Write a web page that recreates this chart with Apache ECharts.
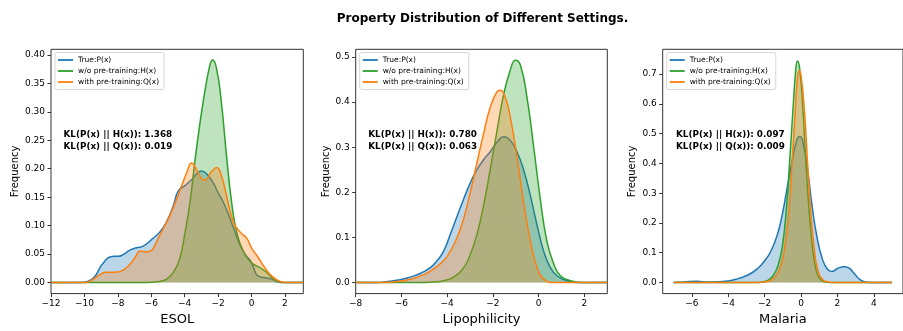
<!DOCTYPE html>
<html>
<head>
<meta charset="utf-8">
<script src="https://cdn.jsdelivr.net/npm/echarts@6/dist/echarts.min.js"></script>
<style>html,body{margin:0;padding:0;background:#fff;}#c{width:903px;height:331px;}</style>
</head>
<body>
<div id="c"></div>
<script>
const titleText = 'Property Distribution of Different Settings.';
const legendNames = ['True:P(x)', 'w/o pre-training:H(x)', 'with pre-training:Q(x)'];
const colors = ['#1f77b4', '#2ca02c', '#ff7f0e'];
const panelNames = ['ESOL', 'Lipophilicity', 'Malaria'];
const klH = [1.368, 0.780, 0.097];
const klQ = [0.019, 0.063, 0.009];

// x ticks / y ticks
const xTicksESOL = [-12, -10, -8, -6, -4, -2, 0, 2];
const xTicksLipo = [-8, -6, -4, -2, 0, 2];
const xTicksMal = [-6, -4, -2, 0, 2, 4];
const yTicksESOL = [0, 0.05, 0.10, 0.15, 0.20, 0.25, 0.30, 0.35, 0.40];
const yTicksLipo = [0, 0.1, 0.2, 0.3, 0.4, 0.5];
const yTicksMal = [0, 0.1, 0.2, 0.3, 0.4, 0.5, 0.6, 0.7];

// ESOL
const esolPX = [-12, -10.2, -9.8, -9.5, -9.27, -9.07, -8.77, -8.47, -8.2, -8.0, -7.68, -7.28, -6.88, -6.48, -6.0, -5.48, -5.08, -4.68, -4.38, -4.0, -3.58, -3.28, -2.99, -2.69, -2.29, -2.0, -1.59, -1.09, -0.69, -0.29, -0.1, 0.1, 0.3, 0.5, 0.9, 1.2, 1.6, 1.9, 3.1];
const esolPY = [0, 0, 0.002, 0.007, 0.015, 0.026, 0.038, 0.045, 0.046, 0.046, 0.049, 0.057, 0.061, 0.064, 0.075, 0.089, 0.107, 0.135, 0.161, 0.170, 0.181, 0.191, 0.196, 0.191, 0.175, 0.158, 0.135, 0.097, 0.066, 0.046, 0.040, 0.028, 0.014, 0.010, 0.008, 0.006, 0.001, 0, 0];
const esolHX = [-12, -6.3, -5.5, -5.08, -4.68, -4.28, -4.0, -3.68, -3.38, -3.08, -2.79, -2.49, -2.33, -2.09, -1.79, -1.49, -1.19, -0.89, -0.49, 0, 0.5, 0.9, 1.3, 1.7, 2.0, 3.1];
const esolHY = [0, 0, 0.002, 0.006, 0.018, 0.044, 0.084, 0.141, 0.215, 0.281, 0.336, 0.382, 0.391, 0.376, 0.313, 0.221, 0.141, 0.089, 0.055, 0.035, 0.026, 0.018, 0.007, 0.001, 0, 0];
const esolQX = [-12, -10.0, -9.47, -9.07, -8.67, -8.17, -7.68, -7.28, -6.97, -6.67, -6.28, -6.0, -5.68, -5.28, -4.88, -4.48, -4.18, -3.88, -3.58, -3.28, -3.0, -2.79, -2.39, -2.09, -1.79, -1.49, -1.09, -0.69, -0.29, 0, 0.4, 0.8, 1.2, 1.7, 2.1, 3.1];
const esolQY = [0, 0, 0.006, 0.014, 0.018, 0.018, 0.022, 0.032, 0.044, 0.055, 0.054, 0.056, 0.072, 0.095, 0.118, 0.147, 0.170, 0.193, 0.210, 0.198, 0.183, 0.180, 0.195, 0.202, 0.187, 0.152, 0.107, 0.089, 0.078, 0.061, 0.044, 0.026, 0.012, 0.002, 0, 0];

// Lipophilicity
const lipoPX = [-8, -7.1, -6.5, -6.06, -5.62, -5.18, -4.74, -4.45, -4.16, -3.87, -3.58, -3.28, -2.99, -2.70, -2.41, -2.12, -1.82, -1.53, -1.24, -0.95, -0.66, -0.36, -0.07, 0.22, 0.51, 0.80, 1.24, 1.68, 3];
const lipoPY = [0, 0, 0.003, 0.006, 0.012, 0.020, 0.033, 0.048, 0.069, 0.106, 0.145, 0.185, 0.221, 0.250, 0.272, 0.290, 0.311, 0.323, 0.315, 0.290, 0.250, 0.192, 0.127, 0.069, 0.033, 0.015, 0.004, 0, 0];
const lipoHX = [-8, -5.0, -4.6, -4.16, -3.72, -3.28, -2.99, -2.70, -2.41, -2.12, -1.82, -1.53, -1.24, -1.02, -0.80, -0.51, -0.22, 0.07, 0.36, 0.66, 0.95, 1.39, 1.82, 3];
const lipoHY = [0, 0, 0.001, 0.004, 0.012, 0.033, 0.062, 0.106, 0.171, 0.250, 0.337, 0.417, 0.471, 0.493, 0.482, 0.410, 0.301, 0.185, 0.091, 0.041, 0.015, 0.004, 0, 0];
const lipoQX = [-8, -6.8, -6.2, -5.62, -5.04, -4.6, -4.16, -3.87, -3.58, -3.28, -2.99, -2.70, -2.41, -2.12, -1.82, -1.68, -1.46, -1.24, -0.95, -0.66, -0.36, -0.07, 0.22, 0.66, 3];
const lipoQY = [0, 0, 0.002, 0.007, 0.017, 0.030, 0.048, 0.069, 0.098, 0.142, 0.200, 0.265, 0.330, 0.388, 0.423, 0.426, 0.410, 0.366, 0.279, 0.178, 0.091, 0.033, 0.008, 0, 0];

// Malaria
const malPX = [-7, -6.4, -5.7, -5.17, -4.47, -4.0, -3.42, -2.89, -2.37, -2.01, -1.66, -1.31, -1.04, -0.78, -0.52, -0.25, -0.08, 0.09, 0.36, 0.63, 0.89, 1.15, 1.42, 1.68, 2.03, 2.38, 2.65, 2.91, 3.26, 3.61, 3.96, 5];
const malPY = [0, 0.002, 0.004, 0.002, 0.003, 0.005, 0.014, 0.026, 0.048, 0.072, 0.105, 0.159, 0.225, 0.312, 0.399, 0.475, 0.490, 0.475, 0.377, 0.246, 0.148, 0.083, 0.047, 0.037, 0.048, 0.053, 0.048, 0.031, 0.009, 0.001, 0, 0];
const malHX = [-7, -2.5, -2.19, -1.83, -1.57, -1.31, -1.04, -0.78, -0.6, -0.43, -0.29, -0.2, -0.08, 0.09, 0.27, 0.45, 0.63, 0.80, 0.98, 1.24, 1.6, 5];
const malHY = [0, 0, 0.001, 0.007, 0.020, 0.050, 0.116, 0.268, 0.432, 0.595, 0.715, 0.744, 0.720, 0.595, 0.400, 0.235, 0.116, 0.050, 0.017, 0.003, 0, 0];
const malQX = [-7, -2.5, -2.19, -1.83, -1.48, -1.22, -0.96, -0.69, -0.52, -0.34, -0.22, -0.11, 0.0, 0.19, 0.36, 0.54, 0.72, 0.89, 1.15, 1.5, 1.9, 5];
const malQY = [0, 0, 0.001, 0.004, 0.015, 0.039, 0.094, 0.225, 0.377, 0.552, 0.672, 0.711, 0.694, 0.574, 0.400, 0.235, 0.116, 0.050, 0.012, 0.002, 0, 0];

const panels = [
  { curves: [[esolPX, esolPY], [esolHX, esolHY], [esolQX, esolQY]], xr: [-12, 3.1], yr: [-0.0195, 0.41], xt: xTicksESOL, yt: yTicksESOL, yd: 2,
    grid: { left: 51, top: 49.3, width: 252.3, height: 250.7 }, yGap: 31, kl: [63.5, 128.5] },
  { curves: [[lipoPX, lipoPY], [lipoHX, lipoHY], [lipoQX, lipoQY]], xr: [-8, 3], yr: [-0.0246, 0.517], xt: xTicksLipo, yt: yTicksLipo, yd: 1,
    grid: { left: 355.7, top: 49.3, width: 251.6, height: 250.7 }, yGap: 24.7, kl: [368.3, 128.5] },
  { curves: [[malPX, malPY], [malHX, malHY], [malQX, malQY]], xr: [-7.6, 5.6], yr: [-0.0372, 0.783], xt: xTicksMal, yt: yTicksMal, yd: 1,
    grid: { left: 662.7, top: 49.3, width: 252, height: 250.7 }, yGap: 25.4, kl: [676, 128.2] }
];

const font = 'DejaVu Sans';
const axisColor = '#333';
const minus = v => String(v).replace('-', '\u2212');

const option = {
  animation: false,
  backgroundColor: '#fff',
  title: { text: titleText, left: 336.7, top: 13, padding: 0,
    textStyle: { fontFamily: font, fontSize: 12, fontWeight: 'bold', color: '#000' } },
  grid: [], xAxis: [], yAxis: [], series: [], legend: [], graphic: []
};

panels.forEach((p, i) => {
  option.grid.push(Object.assign({ show: true, borderColor: axisColor, borderWidth: 1, backgroundColor: 'transparent', containLabel: false }, p.grid));
  option.xAxis.push({
    type: 'value', gridIndex: i, min: p.xr[0], max: p.xr[1], position: 'bottom',
    name: panelNames[i], nameLocation: 'middle', nameGap: 17,
    nameTextStyle: { fontFamily: font, fontSize: 13, color: '#000' },
    axisLine: { show: false, onZero: false }, splitLine: { show: false },
    axisTick: { show: true, inside: false, length: 3.5, customValues: p.xt, lineStyle: { color: axisColor, width: 1 } },
    axisLabel: { customValues: p.xt, margin: 5.5, fontFamily: font, fontSize: 9, color: '#000', formatter: v => minus(v) }
  });
  option.yAxis.push({
    type: 'value', gridIndex: i, min: p.yr[0], max: p.yr[1], position: 'left',
    name: 'Frequency', nameLocation: 'middle', nameGap: p.yGap,
    nameTextStyle: { fontFamily: font, fontSize: 10, color: '#000' },
    axisLine: { show: false, onZero: false }, splitLine: { show: false },
    axisTick: { show: true, inside: false, length: 3.5, customValues: p.yt, lineStyle: { color: axisColor, width: 1 } },
    axisLabel: { customValues: p.yt, margin: 6, fontFamily: font, fontSize: 9, color: '#000', formatter: v => v.toFixed(p.yd) }
  });
  p.curves.forEach((c, j) => {
    option.series.push({
      type: 'line', name: legendNames[j], xAxisIndex: i, yAxisIndex: i,
      data: c[0].map((x, k) => [x, c[1][k]]),
      smooth: 0.5, showSymbol: false, symbol: 'none',
      color: colors[j],
      lineStyle: { color: colors[j], width: 1.5 },
      areaStyle: { color: colors[j], opacity: 0.3, origin: 0 },
      z: 2 + j
    });
  });
  option.legend.push({
    orient: 'vertical', left: p.grid.left + 4, top: 52.5,
    data: legendNames.map(n => ({ name: n, icon: 'rect' })),
    itemWidth: 15, itemHeight: 1.8, itemGap: 2,
    padding: [3, 5, 3, 3],
    backgroundColor: 'rgba(255,255,255,0.8)', borderColor: '#cccccc', borderWidth: 0.8, borderRadius: 2,
    textStyle: { fontFamily: font, fontSize: 7.5, color: '#000', lineHeight: 9 },
    selectedMode: false
  });
  option.graphic.push({
    type: 'text', left: p.kl[0], top: p.kl[1], z: 100,
    style: { text: 'KL(P(x) || H(x)): ' + klH[i].toFixed(3) + '\nKL(P(x) || Q(x)): ' + klQ[i].toFixed(3),
      font: 'bold 8.8px "DejaVu Sans"', lineHeight: 12.2, fill: '#000' }
  });
});

const chart = echarts.init(document.getElementById('c'), null, { renderer: 'canvas' });
chart.setOption(option);
</script>
</body>
</html>
